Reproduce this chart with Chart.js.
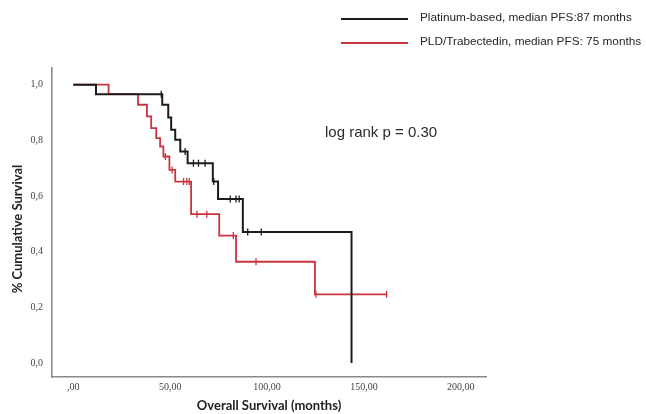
<!DOCTYPE html>
<html>
<head>
<meta charset="utf-8">
<script src="https://cdn.jsdelivr.net/npm/chart.js@4.4.0/dist/chart.umd.min.js"></script>
<style>
  html, body { margin: 0; padding: 0; background: #fff; }
</style>
</head>
<body>
<canvas id="kmChart" width="646" height="414"></canvas>
<script>
/* =========================================
   Kaplan-Meier data
   ========================================= */
// Platinum-based : event times (months) and survival after each step
var platinumTimes = [0, 11.7, 45.9, 49, 50.5, 52.6, 55.2, 59, 72, 74.7, 87.5, 143.6];
var platinumSurv  = [1.0, 0.966, 0.928, 0.882, 0.838, 0.802, 0.760, 0.718, 0.652, 0.589, 0.471, 0.0];
var platinumCensored = [45.4, 57.7, 62, 64.6, 68, 72.5, 81, 84, 85.6, 90, 97];

// PLD/Trabectedin
var pldTimes = [0, 18.2, 33.4, 38, 40.2, 42.8, 44.8, 46.5, 49.6, 52.6, 60.8, 75.3, 84, 124.7, 161.7];
var pldSurv  = [1.0, 0.966, 0.928, 0.886, 0.844, 0.808, 0.778, 0.742, 0.694, 0.652, 0.535, 0.458, 0.364, 0.247, 0.247];
var pldCensored = [47.5, 51, 56.9, 58.6, 59.9, 63.8, 68.9, 82.6, 94.3, 125.2, 161.7];

var seriesNames = ['Platinum-based, median PFS:87 months', 'PLD/Trabectedin, median PFS: 75 months'];
var seriesColors = ['#1c1c1c', '#c8343f'];

var xTicks = [0, 50, 100, 150, 200];
var xTickLabels = [',00', '50,00', '100,00', '150,00', '200,00'];
var yTicks = [0, 0.2, 0.4, 0.6, 0.8, 1.0];
var yTickLabels = ['0,0', '0,2', '0,4', '0,6', '0,8', '1,0'];

// valeur de survie au temps t (fonction en escalier)
function survivalAt(times, surv, t) {
    var s = surv[0];
    for (var i = 0; i < times.length; i++) {
        if (times[i] <= t) s = surv[i];
    }
    return s;
}

function toPoints(times, surv) {
    return times.map(function(t, i) { return { x: t, y: surv[i] }; });
}

function censorPoints(censored, times, surv) {
    return censored.map(function(t) { return { x: t, y: survivalAt(times, surv, t) }; });
}

/* =========================================
   Legend, y title and log rank text
   ========================================= */
var kmTextPlugin = {
    id: 'kmText',
    afterDraw: function(chart) {
        var ctx = chart.ctx;
        ctx.save();
        var rows = [18, 42];
        for (var i = 0; i < 2; i++) {
            ctx.strokeStyle = seriesColors[i];
            ctx.lineWidth = 2;
            ctx.beginPath();
            ctx.moveTo(341, rows[i] + 1);
            ctx.lineTo(408, rows[i] + 1);
            ctx.stroke();
            ctx.fillStyle = '#262626';
            ctx.font = '11.8px "Liberation Sans", Arial, sans-serif';
            ctx.textBaseline = 'middle';
            ctx.textAlign = 'left';
            ctx.fillText(seriesNames[i], 420, rows[i]);
        }
        ctx.font = '15px "Liberation Sans", Arial, sans-serif';
        ctx.fillStyle = '#2a2a2a';
        ctx.fillText('log rank p = 0.30', 325, 133);

        // titre de l'axe Y
        ctx.translate(18, 229);
        ctx.rotate(-Math.PI / 2);
        ctx.textAlign = 'center';
        ctx.fillStyle = '#222';
        ctx.font = 'bold 13px Lato, sans-serif';
        ctx.fillText('% Cumulative Survival', 0, 0);
        ctx.restore();
    }
};

var kmCtx = document.getElementById('kmChart').getContext('2d');

var kmChart = new Chart(kmCtx, {
    type: 'line',
    data: {
        datasets: [{
            label: seriesNames[0],
            data: toPoints(platinumTimes, platinumSurv),
            borderColor: seriesColors[0],
            borderWidth: 2,
            stepped: true,
            pointRadius: 0,
            fill: false
        }, {
            label: seriesNames[1],
            data: toPoints(pldTimes, pldSurv),
            borderColor: seriesColors[1],
            borderWidth: 1.8,
            stepped: true,
            pointRadius: 0,
            fill: false
        }, {
            label: 'censored platinum',
            data: censorPoints(platinumCensored, platinumTimes, platinumSurv),
            showLine: false,
            pointStyle: 'line',
            rotation: 90,
            pointRadius: 3.5,
            borderColor: seriesColors[0],
            pointBorderWidth: 1.3
        }, {
            label: 'censored pld',
            data: censorPoints(pldCensored, pldTimes, pldSurv),
            showLine: false,
            pointStyle: 'line',
            rotation: 90,
            pointRadius: 3.5,
            borderColor: seriesColors[1],
            pointBorderWidth: 1.3
        }]
    },
    options: {
        responsive: false,
        animation: false,
        devicePixelRatio: 1,
        layout: { padding: { left: 0, top: 68, right: 160, bottom: 0 } },
        plugins: {
            legend: { display: false },
            tooltip: { enabled: false }
        },
        scales: {
            x: {
                type: 'linear',
                min: -11,
                max: 213,
                afterBuildTicks: function(scale) {
                    scale.ticks = xTicks.map(function(v) { return { value: v }; });
                },
                afterFit: function(scale) { scale.height = 37; },
                grid: { display: false, drawTicks: false },
                border: { display: true, color: '#8a8a8a', width: 1.6 },
                ticks: {
                    padding: 4,
                    maxRotation: 0,
                    color: '#444',
                    font: { family: '"Liberation Serif", serif', size: 10 },
                    callback: function(value, index) { return xTickLabels[index]; }
                },
                title: {
                    display: true,
                    text: 'Overall Survival (months)',
                    color: '#222',
                    font: { family: 'Lato', size: 13, weight: 'bold' },
                    padding: { top: 0, bottom: 0 }
                }
            },
            y: {
                min: -0.05,
                max: 1.06,
                afterBuildTicks: function(scale) {
                    scale.ticks = yTicks.map(function(v) { return { value: v }; });
                },
                afterFit: function(scale) { scale.width = 52; },
                grid: { display: false, drawTicks: false },
                border: { display: true, color: '#8a8a8a', width: 1.6 },
                ticks: {
                    padding: 9,
                    color: '#444',
                    font: { family: '"Liberation Serif", serif', size: 10 },
                    callback: function(value, index) { return yTickLabels[index]; }
                }
            }
        }
    },
    plugins: [kmTextPlugin]
});
</script>
</body>
</html>
